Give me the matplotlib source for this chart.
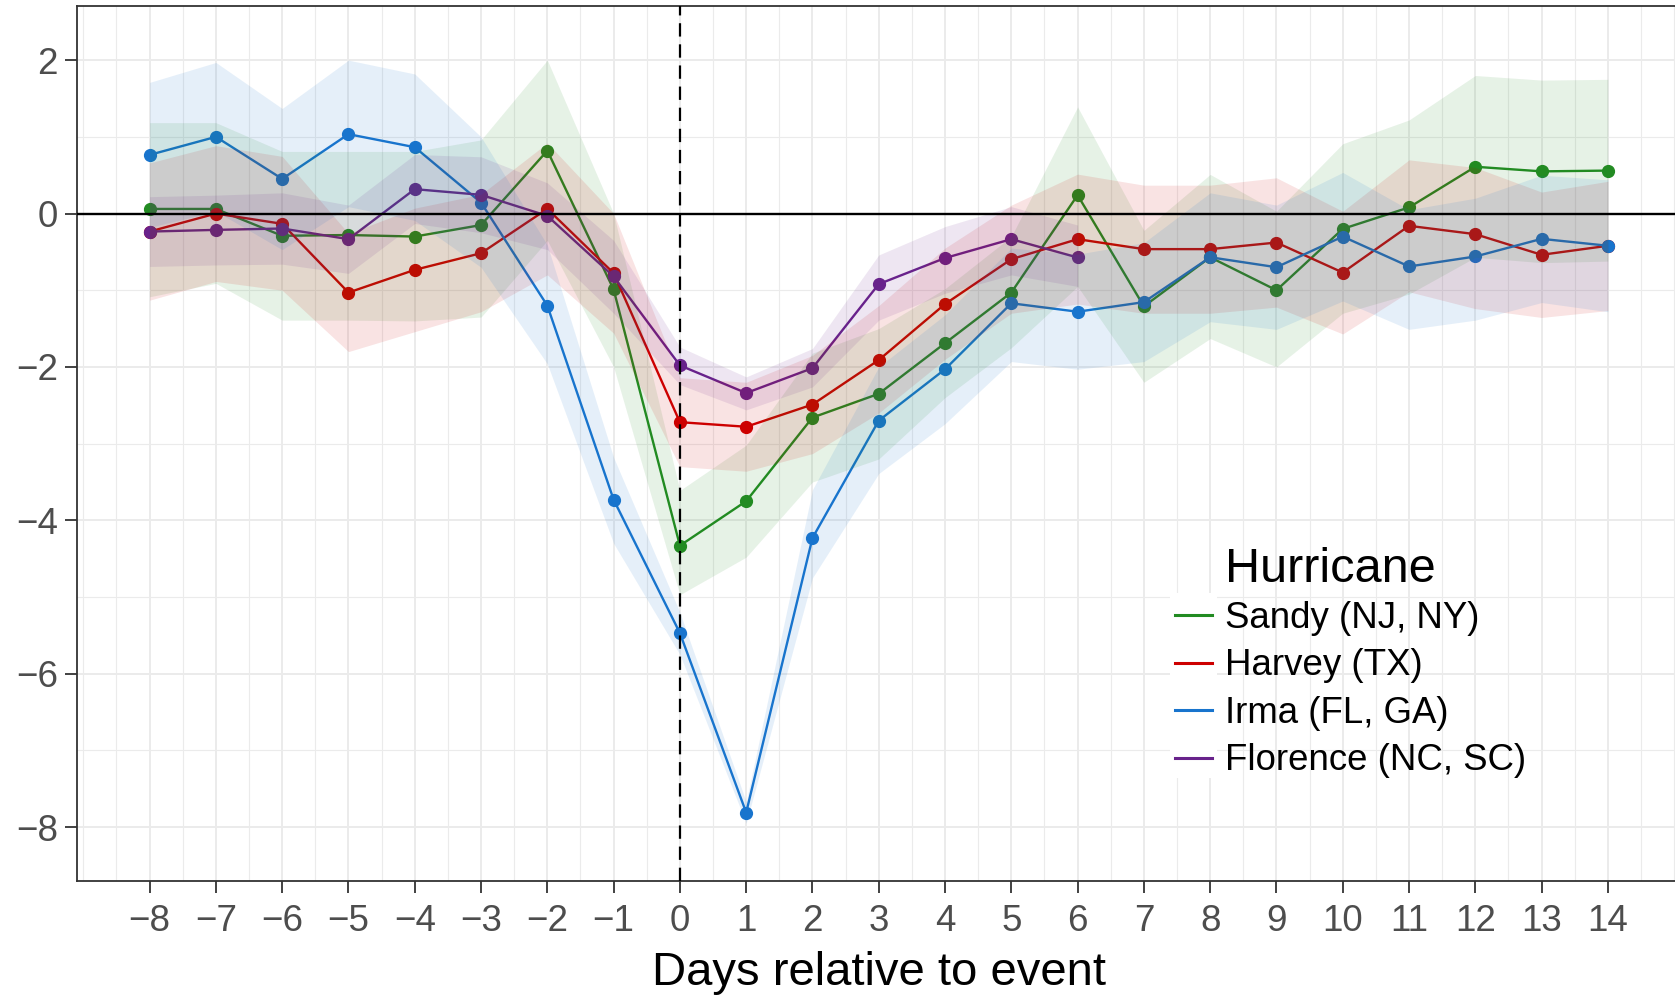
import numpy as np
import matplotlib
matplotlib.use('Agg')
import matplotlib.pyplot as plt
from matplotlib.ticker import FixedLocator, MultipleLocator
from matplotlib.patches import Rectangle

plt.rcParams['font.family'] = ['Liberation Sans', 'DejaVu Sans']

# days relative to landfall
days = list(range(-8, 15))
florence_days = list(range(-8, 7))

names = ['Sandy (NJ, NY)', 'Harvey (TX)', 'Irma (FL, GA)', 'Florence (NC, SC)']
colors = ['#228B22', '#CD0000', '#1874CD', '#68228B']

sandy = [0.06, 0.06, -0.29, -0.28, -0.30, -0.15, 0.82, -0.99, -4.33, -3.75, -2.66, -2.35,
         -1.69, -1.03, 0.24, -1.21, -0.57, -1.00, -0.20, 0.08, 0.61, 0.55, 0.56]
sandy_lo = [-1.085, -0.91, -1.39, -1.39, -1.40, -1.35, -0.35, -2.0, -4.97, -4.48, -3.50, -3.2,
            -2.4, -1.75, -0.95, -2.2, -1.63, -2.0, -1.3, -1.05, -0.57, -0.64, -0.62]
sandy_hi = [1.185, 1.185, 0.81, 0.81, 0.81, 0.96, 2.0, 0.0, -3.61, -3.02, -1.82, -1.5,
            -0.98, -0.3, 1.39, -0.22, 0.51, 0.03, 0.91, 1.22, 1.80, 1.74, 1.75]

harvey = [-0.235, 0.0, -0.134, -1.03, -0.734, -0.517, 0.061, -0.777, -2.72, -2.78, -2.49, -1.91,
          -1.18, -0.595, -0.334, -0.464, -0.464, -0.378, -0.769, -0.16, -0.269, -0.538, -0.42]
harvey_lo = [-1.13, -0.885, -1.0, -1.80, -1.54, -1.28, -0.8, -1.56, -3.30, -3.36, -3.13, -2.6,
             -1.9, -1.3, -1.18, -1.3, -1.3, -1.22, -1.57, -1.02, -1.24, -1.355, -1.265]
harvey_hi = [0.66, 0.885, 0.745, -0.26, 0.07, 0.25, 0.92, 0.0, -2.14, -2.2, -1.85, -1.2,
             -0.45, 0.11, 0.514, 0.37, 0.37, 0.466, 0.03, 0.70, 0.60, 0.28, 0.42]

irma = [0.765, 1.0, 0.452, 1.035, 0.865, 0.143, -1.20, -3.73, -5.47, -7.81, -4.23, -2.70,
        -2.03, -1.17, -1.28, -1.155, -0.57, -0.70, -0.30, -0.69, -0.56, -0.33, -0.42]
irma_lo = [-0.18, 0.03, -0.47, 0.09, -0.09, -0.70, -1.96, -4.30, -5.75, -7.95, -4.75, -3.39,
           -2.74, -1.93, -2.03, -1.93, -1.41, -1.51, -1.14, -1.51, -1.39, -1.16, -1.28]
irma_hi = [1.71, 1.97, 1.37, 2.0, 1.82, 1.0, -0.41, -3.18, -5.2, -7.67, -3.6, -2.0,
           -1.32, -0.45, -0.53, -0.38, 0.27, 0.11, 0.536, 0.05, 0.2, 0.50, 0.44]

florence = [-0.235, -0.213, -0.195, -0.334, 0.318, 0.244, -0.03, -0.82, -1.98, -2.34, -2.016,
            -0.92, -0.58, -0.334, -0.573]
florence_lo = [-0.69, -0.67, -0.66, -0.78, -0.13, -0.25, -0.47, -1.3, -2.23, -2.56, -2.26,
               -1.39, -1.04, -0.80, -0.95]
florence_hi = [0.22, 0.24, 0.27, 0.11, 0.77, 0.74, 0.4, -0.35, -1.74, -2.13, -1.76,
               -0.54, -0.17, 0.09, -0.15]

series = [(days, sandy, sandy_lo, sandy_hi),
          (days, harvey, harvey_lo, harvey_hi),
          (days, irma, irma_lo, irma_hi),
          (florence_days, florence, florence_lo, florence_hi)]

W, H = 1675, 997
fig = plt.figure(figsize=(W / 100, H / 100), dpi=100)
# axes box in pixels: left 76.7, right 1680.8 (cut by the figure edge), top 5.7, bottom 880.8
ax = fig.add_axes([76.7 / W, 1 - 880.8 / H, (1680.8 - 76.7) / W, (880.8 - 5.7) / H])

for (x, y, lo, hi), name, col in zip(series, names, colors):
    ax.plot(x, y, color=col, lw=1.7, marker='o', ms=8.5, zorder=3, label=name)
    ax.fill_between(x, lo, hi, color=col, alpha=0.11, lw=0, zorder=4)

ax.axhline(0, color='black', lw=1.7, zorder=5)
ax.axvline(0, color='black', lw=1.6, ls=(0, (6, 3.5)), zorder=5)

ax.set_xlim(-9.1, 15.1)
ax.set_ylim(-8.70, 2.71)
ax.xaxis.set_major_locator(FixedLocator(days))
ax.xaxis.set_minor_locator(MultipleLocator(0.5))
ax.yaxis.set_major_locator(FixedLocator([-8, -6, -4, -2, 0, 2]))
ax.yaxis.set_minor_locator(MultipleLocator(1))
ax.grid(which='major', color='#EBEBEB', lw=1.4, zorder=0)
ax.grid(which='minor', color='#EBEBEB', lw=0.8, zorder=0)
ax.set_axisbelow(True)

ax.tick_params(which='major', length=8.5, width=1.3, color='#333333',
               labelsize=26.5, labelcolor='#4D4D4D')
ax.tick_params(axis='x', which='major', pad=8)
ax.tick_params(axis='y', which='major', pad=5)
ax.tick_params(which='minor', length=0)
for s in ax.spines.values():
    s.set_color('#333333')
    s.set_linewidth(1.3)

ax.set_xlabel('Days relative to event', fontsize=34, labelpad=9)

# white key boxes behind the legend lines, like ggplot's legend.key
ax.add_patch(Rectangle((1170 / W, 1 - 778 / H), 47 / W, 185 / H, transform=fig.transFigure,
                       facecolor='white', edgecolor='none', zorder=6, clip_on=False))
fig.text(1225 / W, 1 - 581.7 / H, 'Hurricane', fontsize=35, color='black',
         ha='left', va='baseline')
leg = ax.legend(loc='upper left', bbox_to_anchor=(1175 / W, 1 - 601 / H),
                bbox_transform=fig.transFigure, frameon=False, fontsize=26.4,
                handlelength=1.0, handletextpad=0.36, labelspacing=0.34, borderpad=0,
                borderaxespad=0)
for h in leg.get_lines():
    h.set_marker('')
    h.set_linewidth(2.2)
leg.set_zorder(7)

fig.savefig('out.png', dpi=100)
